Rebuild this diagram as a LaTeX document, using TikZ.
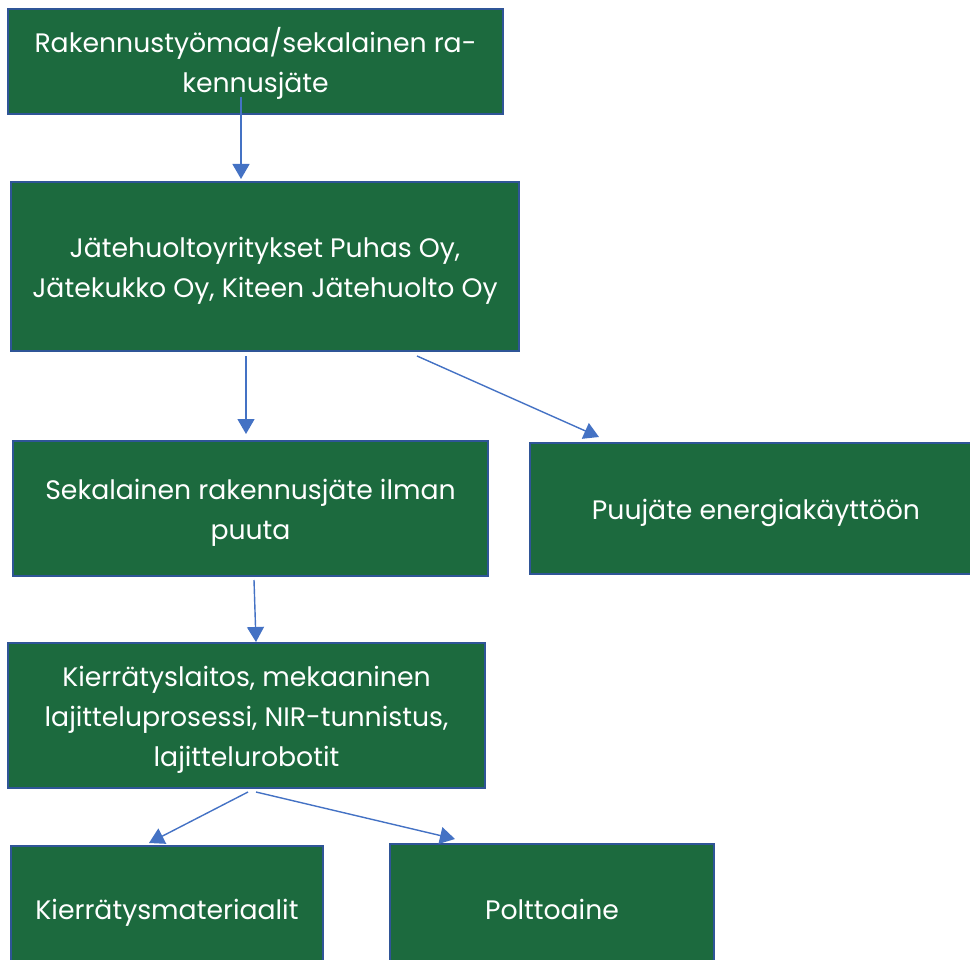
\documentclass[tikz,border=0pt]{standalone}
\usepackage{fontspec}
\setmainfont{Poppins}
\usetikzlibrary{arrows.meta}
\definecolor{boxfill}{HTML}{1C6A3E}
\definecolor{boxline}{HTML}{2F5597}
\definecolor{flow}{HTML}{4472C4}
% centred lines of a stage label, each row 40pt apart, with extra room above
\newcommand{\boxtext}[1]{\begin{tabular}{@{}c@{}}\rule{0pt}{34pt}#1\end{tabular}}
\tikzset{
  stage/.style={draw=boxline, line width=2pt, fill=boxfill, text=white,
    inner sep=0pt, font=\fontsize{26.7}{40}\selectfont},
  flowarrow/.style={draw=flow, line width=1.4pt,
    -{Triangle[width=17pt,length=15pt]}}
}
\begin{document}
\begin{tikzpicture}[x=1pt,y=-1pt]
\useasboundingbox (0,0) rectangle (970,960);

% process stages
\node[stage, minimum width=495pt, minimum height=105pt] (site) at (255.5,61.5)
  {\boxtext{Rakennustyömaa/sekalainen ra-\\kennusjäte}};
\node[stage, minimum width=508pt, minimum height=169pt] (firms) at (265,266.5)
  {\boxtext{Jätehuoltoyritykset Puhas Oy,\\Jätekukko Oy, Kiteen Jätehuolto Oy}};
\node[stage, minimum width=475pt, minimum height=135pt] (mixed) at (250.5,508.5)
  {\boxtext{Sekalainen rakennusjäte ilman\\puuta}};
\node[stage, minimum width=452pt, minimum height=131pt] (wood) at (756,508.5)
  {\boxtext{Puujäte energiakäyttöön}};
\node[stage, minimum width=477pt, minimum height=145pt] (plant) at (246.5,715.5)
  {\boxtext{Kierrätyslaitos, mekaaninen\\lajitteluprosessi, NIR-tunnistus,\\lajittelurobotit}};
\node[stage, minimum width=312pt, minimum height=124pt] (recycled) at (167,908)
  {\boxtext{Kierrätysmateriaalit}};
\node[stage, minimum width=324pt, minimum height=128pt] (fuel) at (552,908)
  {\boxtext{Polttoaine}};

% connector end points
\coordinate (s1) at (241,97);   \coordinate (e1) at (241,179);
\coordinate (s2) at (246,356);  \coordinate (e2) at (246,434);
\coordinate (s3) at (417,356);  \coordinate (e3) at (599,437);
\coordinate (s4) at (254,580);  \coordinate (e4) at (256,642);
\coordinate (s5) at (248,792);  \coordinate (e5) at (149,843);
\coordinate (s6) at (256,792);  \coordinate (e6) at (455,839);

\draw[flowarrow] (s1) -- (e1);
\draw[flowarrow] (s2) -- (e2);
\draw[flowarrow] (s3) -- (e3);
\draw[flowarrow] (s4) -- (e4);
\draw[flowarrow] (s5) -- (e5);
\draw[flowarrow] (s6) -- (e6);
\end{tikzpicture}
\end{document}
